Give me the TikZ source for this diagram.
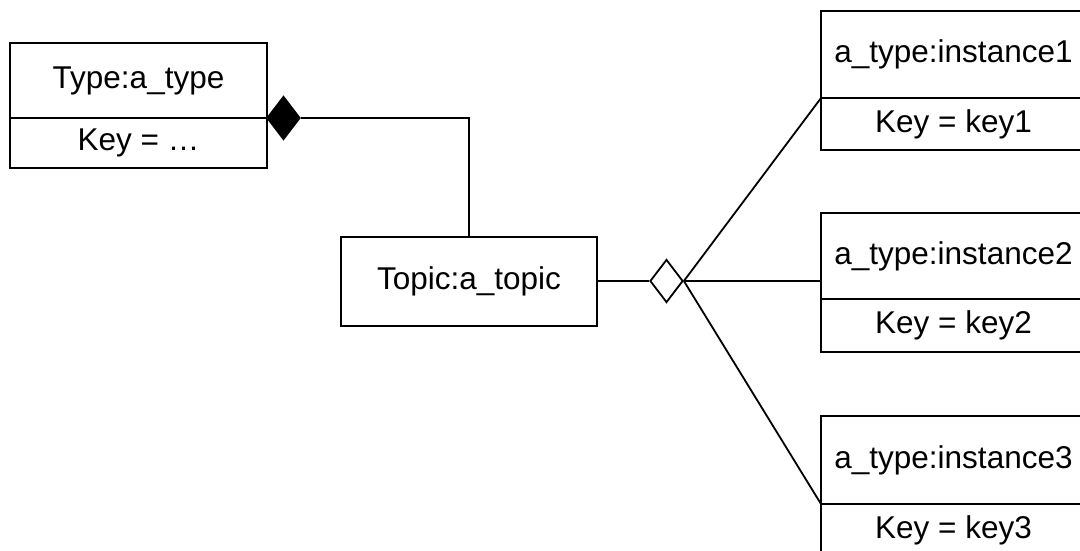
\documentclass[tikz,border=0pt]{standalone}
\usepackage{fontspec}
\setmainfont{Liberation Sans}
\usetikzlibrary{shapes.geometric}
\begin{document}
\begin{tikzpicture}[x=1pt,y=-1pt,
  lw/.style={line width=1.8pt},
  cell/.style={draw,lw,rectangle,inner sep=0pt,outer sep=0pt,anchor=north west,
    font=\fontsize{31.5}{37}\selectfont},
  dia/.style={draw,lw,shape=diamond,inner sep=0pt,minimum width=33pt,minimum height=43pt},
  conn/.style={lw}]
\useasboundingbox (0,0) rectangle (1080,551);
\clip (0,0) rectangle (1080,551);
\fill[white] (0,0) rectangle (1080,551);
% Type box
\node[cell,minimum width=257pt,minimum height=75pt] (ta) at (10,43) {Type:a\_type};
\node[cell,minimum width=257pt,minimum height=50pt] (tb) at (10,118) {Key = …};
% Topic
\node[cell,minimum width=256pt,minimum height=89pt] (topic) at (341,237) {Topic:a\_topic};
% Instances
\node[cell,minimum width=265pt,minimum height=87pt] (i1a) at (821,11) {a\_type:instance1};
\node[cell,minimum width=265pt,minimum height=52pt] (i1b) at (821,98) {Key = key1};
\node[cell,minimum width=265pt,minimum height=86pt] (i2a) at (821,213) {a\_type:instance2};
\node[cell,minimum width=265pt,minimum height=53pt] (i2b) at (821,299) {Key = key2};
\node[cell,minimum width=265pt,minimum height=88pt] (i3a) at (821,416) {a\_type:instance3};
\node[cell,minimum width=265pt,minimum height=52pt] (i3b) at (821,504) {Key = key3};
% Diamonds
\node[dia,fill=black] (d1) at (283.5,118) {};
\node[dia,fill=white] (d2) at (666.5,281) {};
% Connectors
\draw[conn] (d1.east) -| (topic.north);
\draw[conn] (topic.east |- d2.west) -- (d2.west);
\draw[conn] (d2.east) -- (i1b.north west);
\draw[conn] (d2.east) -- (d2.east -| i2a.west);
\draw[conn] (d2.east) -- (i3b.north west);
\end{tikzpicture}
\end{document}
